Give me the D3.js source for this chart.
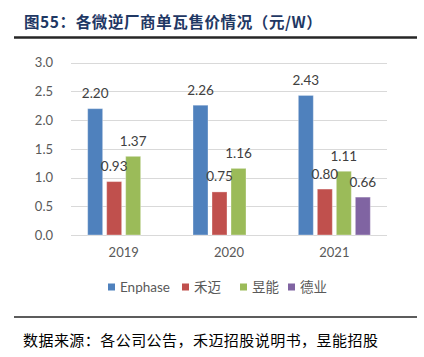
<!DOCTYPE html>
<html><head><meta charset="utf-8">
<script src="https://cdn.jsdelivr.net/npm/d3@7"></script>
<style>
html,body{margin:0;padding:0;background:#fff;}
svg{display:block;}
</style></head>
<body>
<script>
const years = ["2019", "2020", "2021"];
const series = ["Enphase", "禾迈", "昱能", "德业"];
const enphase = [2.20, 2.26, 2.43];
const hemai = [0.93, 0.75, 0.80];
const yuneng = [1.37, 1.16, 1.11];
const deye = [null, null, 0.66];
const yTicks = [0, 0.5, 1.0, 1.5, 2.0, 2.5, 3.0];
const colors = ["#4F81BD", "#C0504D", "#9BBB59", "#8064A2"];
const title = "图55：各微逆厂商单瓦售价情况（元/W）";
const source = "数据来源：各公司公告，禾迈招股说明书，昱能招股";

const values = [enphase, hemai, yuneng, deye];
const W = 424, H = 357;
const svg = d3.select("body").append("svg").attr("width", W).attr("height", H);
const numFont = "Lato, 'Noto Sans CJK SC', sans-serif";

// title
svg.append("text").attr("x", 24).attr("y", 28)
  .attr("font-family", "'Noto Sans CJK SC', sans-serif").attr("font-weight", "bold")
  .attr("font-size", 15.5).attr("letter-spacing", 0.6).attr("fill", "#1F3864").text(title);
svg.append("line").attr("x1", 14).attr("x2", 417).attr("y1", 37.5).attr("y2", 37.5)
  .attr("stroke", "#262626").attr("stroke-width", 2.5);

const x0 = d3.scaleBand().domain(years).range([71, 387]);
const bw = x0.bandwidth();
const x1 = d3.scaleBand().domain(series).range([bw/2 - 38, bw/2 + 38])
  .paddingInner(4/19).paddingOuter(2/19);
const y = d3.scaleLinear().domain([0, 3]).range([235, 62.7]);

// grid
svg.append("g").selectAll("line").data(yTicks).join("line")
  .attr("x1", 71).attr("x2", 387)
  .attr("y1", d => Math.round(y(d)) + 0.5).attr("y2", d => Math.round(y(d)) + 0.5)
  .attr("stroke", "#D9D9D9").attr("stroke-width", 1);

// y labels
const yAxis = d3.axisLeft(y).tickValues(yTicks).tickFormat(d3.format(".1f")).tickSize(0).tickPadding(0);
const ga = svg.append("g").attr("transform", "translate(53,0)").call(yAxis);
ga.select(".domain").remove();
ga.selectAll("text").attr("font-family", numFont).attr("font-size", 13).attr("fill", "#595959");

// x labels
const xAxis = d3.axisBottom(x0).tickSize(0).tickPadding(0);
const gx = svg.append("g").attr("transform", "translate(0,248)").call(xAxis);
gx.select(".domain").remove();
gx.selectAll("text").attr("font-family", numFont).attr("font-size", 13).attr("fill", "#595959");

// bars
const data = [];
years.forEach((yr, i) => series.forEach((s, j) => {
  const v = values[j][i];
  if (v !== null) data.push({yr, s, v, c: colors[j]});
}));
const gb = svg.append("g");
gb.selectAll("rect").data(data).join("rect")
  .attr("x", d => x0(d.yr) + x1(d.s))
  .attr("y", d => y(d.v))
  .attr("width", x1.bandwidth())
  .attr("height", d => y(0) - y(d.v))
  .attr("fill", d => d.c)
  .attr("stroke", "rgba(255,255,255,0.35)").attr("stroke-width", 1);
gb.selectAll("text").data(data).join("text")
  .attr("x", d => x0(d.yr) + x1(d.s) + x1.bandwidth()/2)
  .attr("y", d => y(d.v) - 10.5)
  .attr("text-anchor", "middle")
  .attr("font-family", numFont).attr("font-size", 13.5).attr("fill", "#404040")
  .text(d => d3.format(".2f")(d.v));

// legend
const legX = [108, 182, 240, 288];
const lg = svg.append("g");
series.forEach((s, j) => {
  lg.append("rect").attr("x", legX[j]).attr("y", 283.5).attr("width", 7).attr("height", 7).attr("fill", colors[j]);
  lg.append("text").attr("x", legX[j] + 12).attr("y", 292)
    .attr("font-family", numFont).attr("font-size", 13.5).attr("fill", "#595959").text(s);
});

svg.append("line").attr("x1", 14).attr("x2", 417).attr("y1", 317).attr("y2", 317)
  .attr("stroke", "#262626").attr("stroke-width", 1.5);
svg.append("text").attr("x", 23).attr("y", 346)
  .attr("font-family", "'Noto Sans CJK SC', sans-serif")
  .attr("font-size", 15).attr("letter-spacing", 0.45).attr("fill", "#000").text(source);
</script>
</body></html>
